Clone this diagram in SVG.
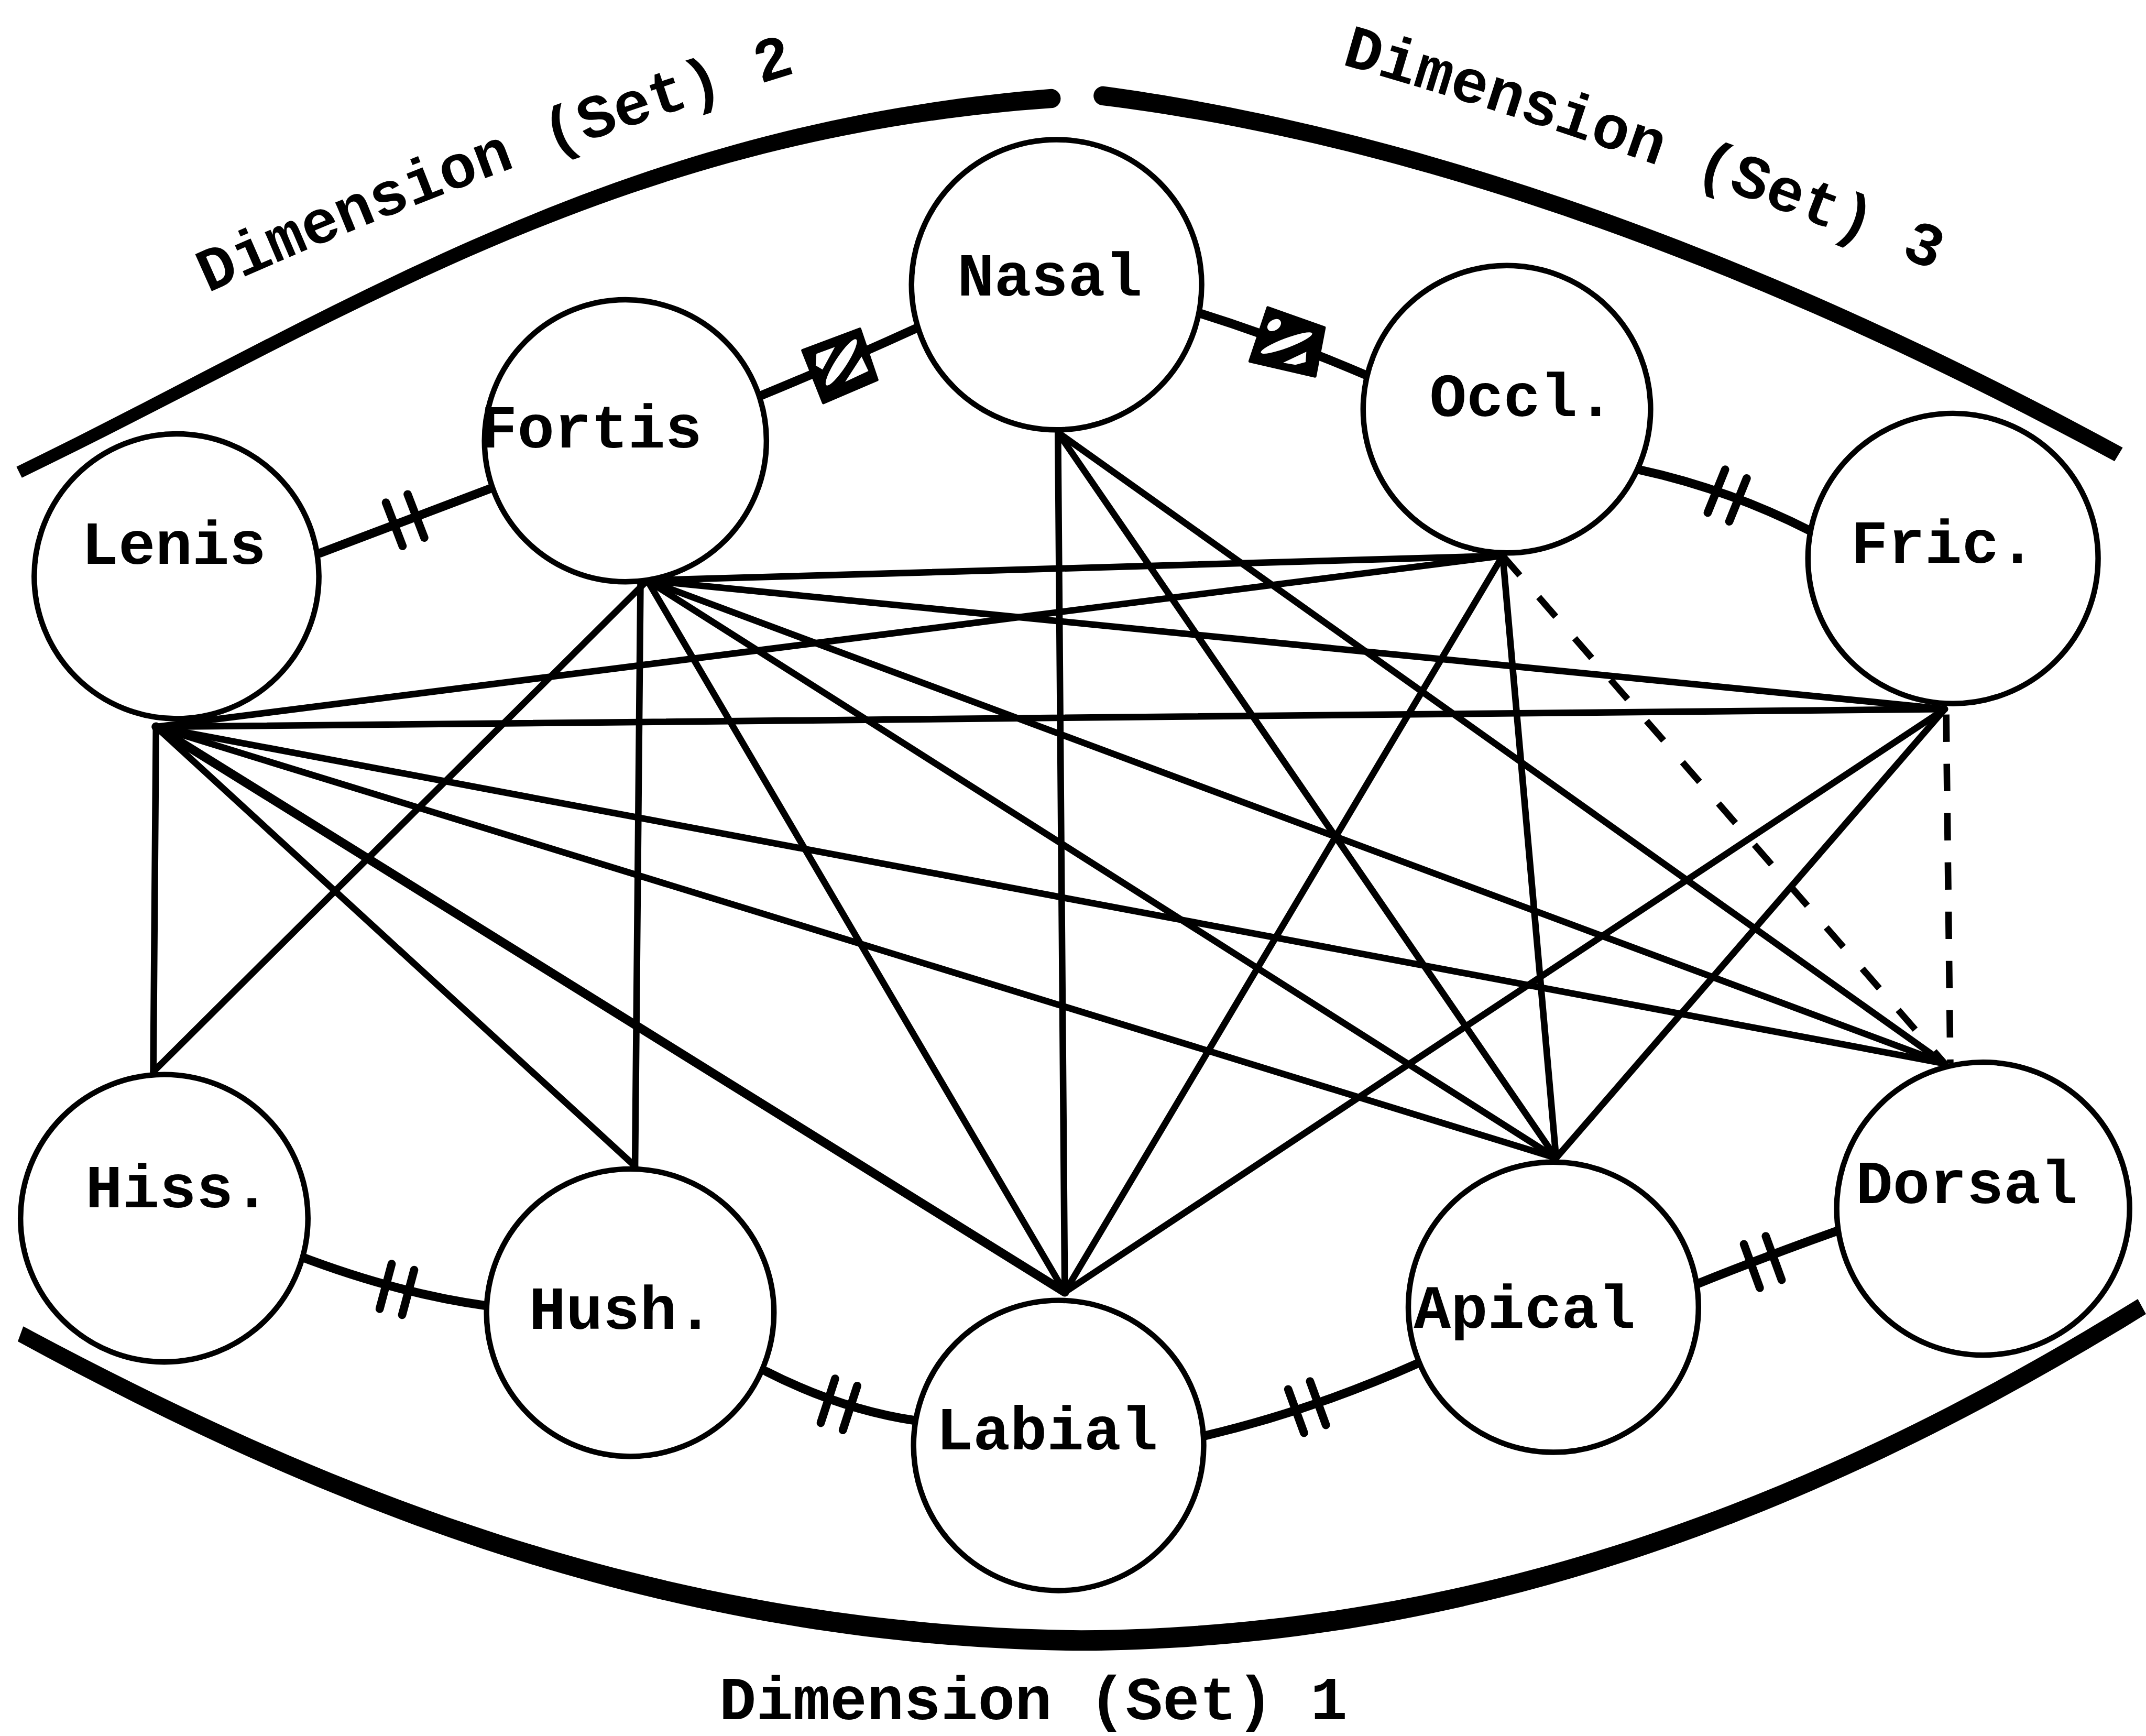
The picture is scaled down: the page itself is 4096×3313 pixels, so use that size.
<svg xmlns="http://www.w3.org/2000/svg" xmlns:xlink="http://www.w3.org/1999/xlink" width="4096" height="3313" viewBox="0 0 4096 3313">
  <style>
    .ring{fill:#fff;stroke:#000;stroke-width:4}
    .lbl{font-family:"Liberation Mono","Courier New",monospace;font-size:45px;font-weight:bold;fill:#000;text-anchor:middle}
    .cap{font-family:"Liberation Mono","Courier New",monospace;font-size:45px;font-weight:bold;fill:#000}
    .edge{stroke:#000;stroke-width:4.8;stroke-linecap:round;fill:none}
    .heavy{stroke-width:6.5}
    .dash{stroke-dasharray:19 21;stroke-linecap:butt}
    .vdash{stroke-dasharray:20 16;stroke-linecap:butt}
    .link{stroke:#000;stroke-width:6.5;fill:none;stroke-linecap:round}
    .tick line{stroke:#000;stroke-width:6;stroke-linecap:round}
    .band{fill:#000}
    .hole{fill:#fff}
  </style>
  <defs>
    <g id="tick" class="tick">
      <line x1="-8.5" y1="-17" x2="-8.5" y2="17"/>
      <line x1="8.5" y1="-17" x2="8.5" y2="17"/>
    </g>
    <path id="arc2" d="M152,214 Q365,118 592,50"/>
    <path id="arc3" d="M980,47 Q1200,110 1432,205"/>
  </defs>
  <rect width="4096" height="3313" fill="#fff"/>
  <g transform="scale(2.612245)">
    <!-- bracketing bands for the three dimension sets -->
    <g id="dimension-bands">
      <path class="band" d="M12,341 C248,226 449,90 768,65 A7,7 0 0 1 768,79 C451,101 252,235 16,349 Z"/>
      <path class="band" d="M806,63 C1000,89 1252,164 1551,327 L1545,337 C1248,176 1000,101 806,77 A7,7 0 0 1 806,63 Z"/>
      <path class="band" d="M17,969 C232,1084 480,1188 790,1191 C1080,1189 1328,1094 1562,949 L1568,960 C1332,1106 1080,1204 790,1206 C480,1203 228,1097 13,980 Z"/>
      <text class="cap"><textPath xlink:href="#arc2">Dimension (Set) 2</textPath></text>
      <text class="cap"><textPath xlink:href="#arc3">Dimension (Set) 3</textPath></text>
      <text class="lbl" x="755" y="1256">Dimension (Set) 1</text>
    </g>

    <!-- connectors -->
    <g id="connectors">
      <!-- from Lenis -->
      <line class="edge" x1="114" y1="531" x2="112" y2="783"/>
      <line class="edge" x1="114" y1="531" x2="464" y2="852"/>
      <line class="edge heavy" x1="114" y1="531" x2="778" y2="944"/>
      <line class="edge" x1="114" y1="531" x2="1137" y2="846"/>
      <line class="edge" x1="114" y1="531" x2="1421" y2="777"/>
      <line class="edge" x1="114" y1="531" x2="1098" y2="406"/>
      <line class="edge" x1="114" y1="531" x2="1421" y2="518"/>
      <!-- from Fortis -->
      <line class="edge" x1="473" y1="424" x2="112" y2="783"/>
      <line class="edge" x1="468" y1="424" x2="464" y2="852"/>
      <line class="edge" x1="473" y1="424" x2="778" y2="944"/>
      <line class="edge" x1="473" y1="424" x2="1137" y2="846"/>
      <line class="edge" x1="473" y1="424" x2="1421" y2="777"/>
      <line class="edge" x1="473" y1="424" x2="1098" y2="406"/>
      <line class="edge" x1="473" y1="424" x2="1421" y2="518"/>
      <!-- from Nasal -->
      <line class="edge" x1="773" y1="316" x2="778" y2="944"/>
      <line class="edge" x1="773" y1="316" x2="1137" y2="846"/>
      <line class="edge" x1="773" y1="316" x2="1421" y2="777"/>
      <!-- from Occl. -->
      <line class="edge" x1="1098" y1="406" x2="778" y2="944"/>
      <line class="edge" x1="1098" y1="406" x2="1137" y2="846"/>
      <line class="edge dash" x1="1098" y1="406" x2="1421" y2="777"/>
      <!-- from Fric. -->
      <line class="edge" x1="1421" y1="518" x2="778" y2="944"/>
      <line class="edge" x1="1421" y1="518" x2="1137" y2="846"/>
      <line class="edge vdash" x1="1422" y1="522" x2="1425" y2="777"/>

      <!-- links between neighbouring values -->
      <path class="link" d="M234,404 L358,357"/>
      <path class="link" d="M556,289 Q612,266 669,240"/>
      <path class="link" d="M874,228 Q935,247 998,274"/>
      <path class="link" d="M1197,343 Q1262,357 1323,388"/>
      <path class="link" d="M217,917 Q290,945 356,954"/>
      <path class="link" d="M560,1002 Q615,1030 670,1038"/>
      <path class="link" d="M880,1049 Q960,1030 1036,996"/>
      <path class="link" d="M1240,938 Q1295,916 1343,899"/>

      <use xlink:href="#tick" transform="translate(296,380) rotate(-21)"/>
      <use xlink:href="#tick" transform="translate(1262,362) rotate(22)"/>
      <use xlink:href="#tick" transform="translate(290,942) rotate(15)"/>
      <use xlink:href="#tick" transform="translate(613,1026) rotate(18)"/>
      <use xlink:href="#tick" transform="translate(955,1028) rotate(-20)"/>
      <use xlink:href="#tick" transform="translate(1288,922) rotate(-20)"/>

      <!-- boxed marks on the Nasal links -->
      <g id="mark-fortis-nasal">
        <polygon points="586.4,256 628.3,240.3 640.9,277.5 601.6,294.3" fill="#000" stroke="#000" stroke-width="2" stroke-linejoin="round"/>
        <polygon class="hole" points="596.5,258.5 610,253.5 601,270 596,267"/>
        <ellipse class="hole" cx="614.7" cy="264.7" rx="20" ry="4.2" transform="rotate(-57 614.7 264.7)"/>
        <polygon class="hole" points="629.5,260.5 634.5,271 617.5,279"/>
      </g>
      <g id="mark-nasal-occl">
        <polygon points="926.3,224.7 967.7,239.3 960.9,274.9 913.2,263.9" fill="#000" stroke="#000" stroke-width="2" stroke-linejoin="round"/>
        <ellipse class="hole" cx="931" cy="237.5" rx="5.5" ry="3.8" transform="rotate(-35 931 237.5)"/>
        <ellipse class="hole" cx="940" cy="250.6" rx="20" ry="3.5" transform="rotate(-20.6 940 250.6)"/>
        <polygon class="hole" points="937.5,265 954.5,257 954,264.5 946.5,266.5"/>
      </g>
    </g>

    <!-- nodes -->
    <g id="node-lenis"><circle class="ring" cx="129" cy="421" r="104"/><text class="lbl" x="127" y="412">Lenis</text></g>
    <g id="node-fortis"><circle class="ring" cx="457" cy="322" r="103"/><text class="lbl" x="432" y="327">Fortis</text></g>
    <g id="node-nasal"><circle class="ring" cx="772" cy="208" r="106"/><text class="lbl" x="767" y="216">Nasal</text></g>
    <g id="node-occl"><circle class="ring" cx="1101" cy="299" r="105"/><text class="lbl" x="1112" y="304">Occl.</text></g>
    <g id="node-fric"><circle class="ring" cx="1427" cy="408" r="106"/><text class="lbl" x="1420" y="411">Fric.</text></g>
    <g id="node-hiss"><circle class="ring" cx="120" cy="890" r="105"/><text class="lbl" x="130" y="882">Hiss.</text></g>
    <g id="node-hush"><circle class="ring" cx="460.5" cy="959" r="105"/><text class="lbl" x="454" y="971">Hush.</text></g>
    <g id="node-labial"><circle class="ring" cx="773.5" cy="1056" r="106"/><text class="lbl" x="765" y="1059">Labial</text></g>
    <g id="node-apical"><circle class="ring" cx="1135" cy="955" r="106"/><text class="lbl" x="1114" y="970">Apical</text></g>
    <g id="node-dorsal"><circle class="ring" cx="1449" cy="883" r="107"/><text class="lbl" x="1437" y="879">Dorsal</text></g>
  </g>
</svg>
